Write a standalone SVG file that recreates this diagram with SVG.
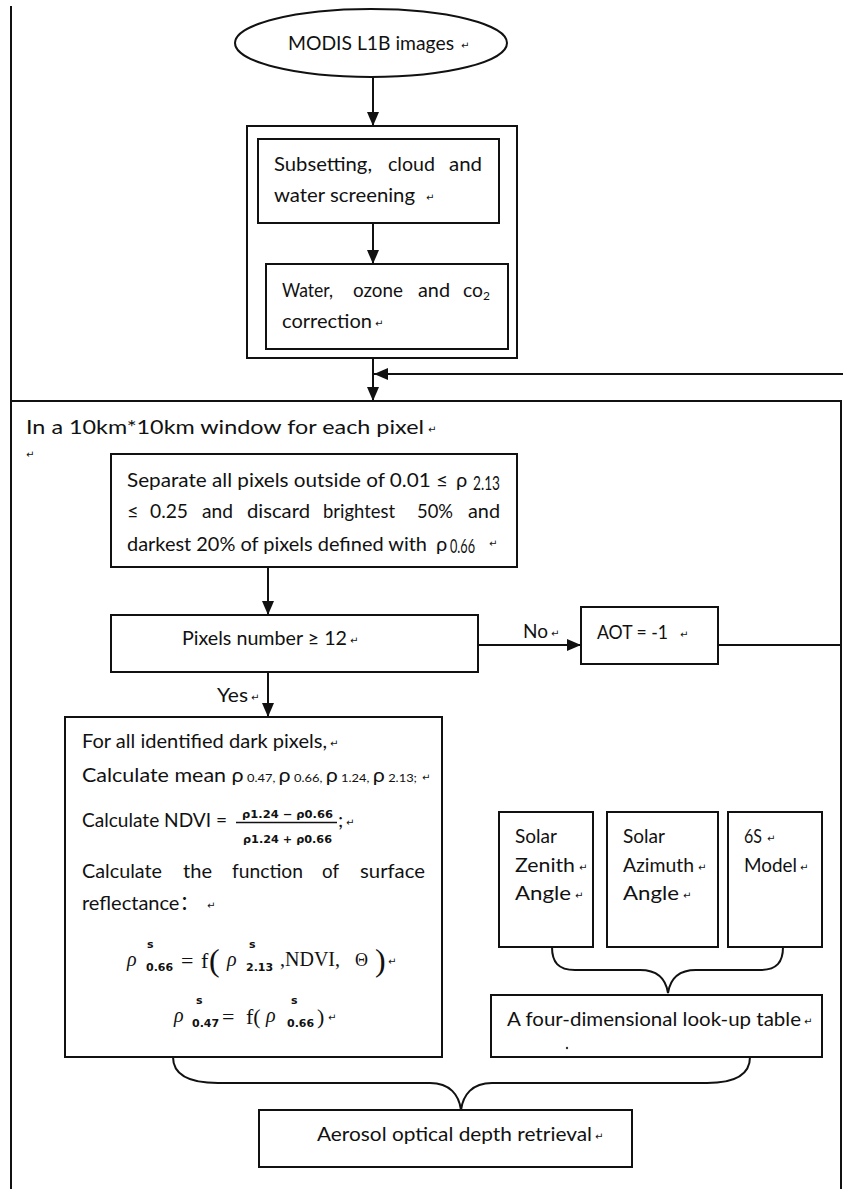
<svg xmlns="http://www.w3.org/2000/svg" width="843" height="1189" viewBox="0 0 843 1189">
<defs>
<marker id="ah" viewBox="0 0 14 12" markerWidth="14" markerHeight="12" refX="14" refY="6" orient="auto" markerUnits="userSpaceOnUse"><path d="M0,0 L14,6 L0,12 z" fill="#111"/></marker>
</defs>
<style>
.box{fill:#fff;stroke:#111;stroke-width:2}
.ln{fill:none;stroke:#111;stroke-width:2}
.t{font-family:Lato,'Liberation Sans','DejaVu Sans',sans-serif;font-size:20px;fill:#111}
.pm{font-family:'DejaVu Sans',sans-serif;font-size:10px;fill:#111}
.m{font-family:'Liberation Serif',serif;fill:#111}
.sb{font-family:'DejaVu Sans',sans-serif;font-weight:bold;font-size:11px;fill:#111}
</style>
<rect width="843" height="1189" fill="#fff"/>

<g id="frame">
<line class="ln" x1="11" y1="6" x2="11" y2="1189"/>
</g>

<g id="n-window">
<path class="ln" d="M11,1195 V401 H841 V1195"/>
<text class="t" x="26" y="434" font-size="21" textLength="398" lengthAdjust="spacingAndGlyphs">In a 10km*10km  window for each pixel</text>
<text class="pm" x="428" y="433">↵</text>
<text class="pm" x="26" y="458">↵</text>
</g>

<g id="n-modis">
<ellipse class="box" cx="371" cy="43" rx="136" ry="34"/>
<text class="t" x="288" y="50" font-size="19" textLength="166" lengthAdjust="spacingAndGlyphs">MODIS L1B images</text>
<text class="pm" x="461" y="49">↵</text>
</g>

<g id="n-preprocess">
<rect class="box" x="247" y="126" width="270" height="232"/>
</g>

<g id="n-subset">
<rect class="box" x="258" y="139" width="241" height="84"/>
<text class="t" y="171"><tspan x="274" textLength="98" lengthAdjust="spacingAndGlyphs">Subsetting,</tspan><tspan x="388" textLength="47" lengthAdjust="spacingAndGlyphs">cloud</tspan><tspan x="449" textLength="33" lengthAdjust="spacingAndGlyphs">and</tspan></text>
<text class="t" x="274" y="202" textLength="141" lengthAdjust="spacingAndGlyphs">water screening</text>
<text class="pm" x="426" y="201">↵</text>
</g>

<g id="n-correction">
<rect class="box" x="266" y="264" width="242" height="85"/>
<text class="t" y="297"><tspan x="282" textLength="51" lengthAdjust="spacingAndGlyphs">Water,</tspan><tspan x="353" textLength="50" lengthAdjust="spacingAndGlyphs">ozone</tspan><tspan x="418" textLength="32" lengthAdjust="spacingAndGlyphs">and</tspan><tspan x="463" textLength="20" lengthAdjust="spacingAndGlyphs">co</tspan><tspan x="483" dy="3" font-size="12">2</tspan></text>
<text class="t" x="282" y="328" textLength="90" lengthAdjust="spacingAndGlyphs">correction</text>
<text class="pm" x="375" y="327">↵</text>
</g>

<g id="n-separate">
<rect class="box" x="111" y="454" width="406" height="113"/>
<text class="t" x="127" y="487" textLength="321" lengthAdjust="spacingAndGlyphs">Separate all pixels outside of 0.01 ≤</text>
<text class="t" x="456" y="487">ρ</text>
<text class="t" x="473" y="490" font-size="13" textLength="27" lengthAdjust="spacingAndGlyphs">2.13</text>
<text class="t" y="518"><tspan x="127">≤</tspan><tspan x="150" textLength="38" lengthAdjust="spacingAndGlyphs">0.25</tspan><tspan x="202" textLength="31" lengthAdjust="spacingAndGlyphs">and</tspan><tspan x="247" textLength="63" lengthAdjust="spacingAndGlyphs">discard</tspan><tspan x="323" textLength="72" lengthAdjust="spacingAndGlyphs">brightest</tspan><tspan x="417" textLength="36" lengthAdjust="spacingAndGlyphs">50%</tspan><tspan x="468" textLength="32" lengthAdjust="spacingAndGlyphs">and</tspan></text>
<text class="t" x="127" y="551" textLength="300" lengthAdjust="spacingAndGlyphs">darkest 20% of pixels defined with</text>
<text class="t" x="436" y="551">ρ</text>
<text class="t" x="450" y="553" font-size="12" textLength="25" lengthAdjust="spacingAndGlyphs">0.66</text>
<text class="pm" x="489" y="547">↵</text>
</g>

<g id="n-pixels">
<rect class="box" x="111" y="615" width="367" height="57"/>
<text class="t" x="182" y="645" textLength="165" lengthAdjust="spacingAndGlyphs">Pixels number ≥ 12</text>
<text class="pm" x="350" y="644">↵</text>
</g>

<g id="n-aot">
<rect class="box" x="581" y="607" width="137" height="57"/>
<text class="t" x="597" y="639" font-size="19" textLength="71" lengthAdjust="spacingAndGlyphs">AOT = -1</text>
<text class="pm" x="680" y="638">↵</text>
</g>

<g id="n-dark">
<rect class="box" x="65" y="717" width="377" height="340"/>
<text class="t" x="82" y="748" textLength="245" lengthAdjust="spacingAndGlyphs">For all identified  dark pixels,</text>
<text class="pm" x="330" y="747">↵</text>
<text class="t" x="82" y="782" textLength="335" lengthAdjust="spacingAndGlyphs">Calculate mean ρ<tspan font-size="12"> 0.47, </tspan>ρ<tspan font-size="12"> 0.66, </tspan>ρ<tspan font-size="12"> 1.24, </tspan>ρ<tspan font-size="12"> 2.13;</tspan></text>
<text class="pm" x="422" y="781">↵</text>
<text class="t" x="82" y="827" textLength="145" lengthAdjust="spacingAndGlyphs">Calculate NDVI =</text>
<text class="sb" x="242" y="818" textLength="91" lengthAdjust="spacingAndGlyphs">ρ1.24 − ρ0.66</text>
<line x1="236" y1="822.5" x2="337" y2="822.5" stroke="#111" stroke-width="1.5"/>
<text class="sb" x="243" y="843" textLength="89" lengthAdjust="spacingAndGlyphs">ρ1.24 + ρ0.66</text>
<text class="t" x="338" y="827">;</text>
<text class="pm" x="346" y="826">↵</text>
<text class="t" y="878"><tspan x="82" textLength="80" lengthAdjust="spacingAndGlyphs">Calculate</tspan><tspan x="183" textLength="29" lengthAdjust="spacingAndGlyphs">the</tspan><tspan x="232" textLength="71" lengthAdjust="spacingAndGlyphs">function</tspan><tspan x="322" textLength="17" lengthAdjust="spacingAndGlyphs">of</tspan><tspan x="360" textLength="65" lengthAdjust="spacingAndGlyphs">surface</tspan></text>
<text class="t" x="82" y="910">reflectance<tspan font-family="'Noto Sans CJK SC',sans-serif">：</tspan></text>
<text class="pm" x="207" y="909">↵</text>
<text class="m" x="127" y="966" font-size="20" font-style="italic">ρ</text>
<text class="sb" x="147" y="948">s</text>
<text class="sb" x="146" y="971" font-size="12">0.66</text>
<text class="m" x="181" y="968" font-size="22">=</text>
<text class="m" x="201" y="968" font-size="22">f</text>
<text class="m" x="209" y="971" font-size="32">(</text>
<text class="m" x="227" y="966" font-size="20" font-style="italic">ρ</text>
<text class="sb" x="249" y="948">s</text>
<text class="sb" x="246" y="971" font-size="12">2.13</text>
<text class="m" x="280" y="966" font-size="20">,NDVI,</text>
<text class="m" x="355" y="966" font-size="18">Θ</text>
<text class="m" x="375" y="971" font-size="32">)</text>
<text class="pm" x="388" y="965">↵</text>
<text class="m" x="174" y="1022" font-size="20" font-style="italic">ρ</text>
<text class="sb" x="196" y="1004">s</text>
<text class="sb" x="192" y="1027" font-size="12">0.47</text>
<text class="m" x="222" y="1024" font-size="22">=</text>
<text class="m" x="246" y="1024" font-size="22">f(</text>
<text class="m" x="266" y="1022" font-size="20" font-style="italic">ρ</text>
<text class="sb" x="291" y="1004">s</text>
<text class="sb" x="287" y="1027" font-size="12">0.66</text>
<text class="m" x="317" y="1024" font-size="22">)</text>
<text class="pm" x="328" y="1021">↵</text>
</g>

<g id="n-zenith">
<rect class="box" x="499" y="812" width="94" height="135"/>
<text class="t" x="515" y="843" textLength="42" lengthAdjust="spacingAndGlyphs">Solar</text>
<text class="t" x="515" y="872" textLength="60" lengthAdjust="spacingAndGlyphs">Zenith</text>
<text class="pm" x="579" y="871">↵</text>
<text class="t" x="515" y="900" textLength="56" lengthAdjust="spacingAndGlyphs">Angle</text>
<text class="pm" x="575" y="899">↵</text>
</g>

<g id="n-azimuth">
<rect class="box" x="607" y="812" width="111" height="135"/>
<text class="t" x="623" y="843" textLength="42" lengthAdjust="spacingAndGlyphs">Solar</text>
<text class="t" x="623" y="872" textLength="71" lengthAdjust="spacingAndGlyphs">Azimuth</text>
<text class="pm" x="698" y="871">↵</text>
<text class="t" x="623" y="900" textLength="56" lengthAdjust="spacingAndGlyphs">Angle</text>
<text class="pm" x="683" y="899">↵</text>
</g>

<g id="n-6s">
<rect class="box" x="728" y="812" width="94" height="135"/>
<text class="t" x="744" y="843" font-size="19" textLength="18" lengthAdjust="spacingAndGlyphs">6S</text>
<text class="pm" x="767" y="842">↵</text>
<text class="t" x="744" y="872" textLength="53" lengthAdjust="spacingAndGlyphs">Model</text>
<text class="pm" x="800" y="871">↵</text>
</g>

<g id="n-lut">
<rect class="box" x="491" y="995" width="331" height="62"/>
<text class="t" x="507" y="1026" textLength="294" lengthAdjust="spacingAndGlyphs">A four-dimensional  look-up table</text>
<text class="pm" x="804" y="1025">↵</text>
<circle cx="567" cy="1048" r="1.2" fill="#333"/>
</g>

<g id="n-aod">
<rect class="box" x="259" y="1110" width="373" height="57"/>
<text class="t" x="317" y="1141" textLength="275" lengthAdjust="spacingAndGlyphs">Aerosol optical depth retrieval</text>
<text class="pm" x="595" y="1140">↵</text>
</g>

<g id="connectors">
<line class="ln" x1="373" y1="77" x2="373" y2="126" marker-end="url(#ah)"/>
<line class="ln" x1="373" y1="223" x2="373" y2="264" marker-end="url(#ah)"/>
<line class="ln" x1="373" y1="358" x2="373" y2="401" marker-end="url(#ah)"/>
<line class="ln" x1="845" y1="374" x2="374" y2="374" marker-end="url(#ah)"/>
<line class="ln" x1="268" y1="567" x2="268" y2="615" marker-end="url(#ah)"/>
<line class="ln" x1="478" y1="645" x2="581" y2="645" marker-end="url(#ah)"/>
<text class="t" x="523" y="638" font-size="18" textLength="25" lengthAdjust="spacingAndGlyphs">No</text>
<text class="pm" x="551" y="637">↵</text>
<line class="ln" x1="718" y1="645" x2="841" y2="645"/>
<line class="ln" x1="268" y1="672" x2="268" y2="717" marker-end="url(#ah)"/>
<text class="t" x="217" y="702" font-size="18" textLength="31" lengthAdjust="spacingAndGlyphs">Yes</text>
<text class="pm" x="251" y="701">↵</text>
<path class="ln" d="M552,947 C552,962 558,970 575,970 L640,970 C658,970 666,980 668,993 C670,980 678,970 696,970 L760,970 C777,970 783,962 783,947"/>
<path class="ln" d="M173,1057 C173,1075 188,1083 218,1083 L430,1083 C450,1083 459,1095 461,1110 C463,1095 472,1083 492,1083 L707,1083 C735,1083 750,1075 750,1057"/>
</g>
</svg>
